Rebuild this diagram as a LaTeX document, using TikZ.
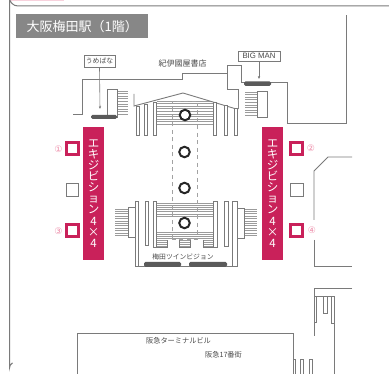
\documentclass[tikz,border=0pt]{standalone}
\usepackage{fontspec}
\setmainfont{Noto Sans CJK JP}
\newfontfamily\latinf{Liberation Sans}
\newfontfamily\symf{DejaVu Sans}
\usetikzlibrary{arrows.meta}
\definecolor{crim}{HTML}{C9215A}
\definecolor{wall}{HTML}{7A7A7A}
\definecolor{barc}{HTML}{5A5A5A}
\definecolor{txtc}{HTML}{4A4A4A}
\definecolor{pnk}{HTML}{EE8FAB}
\tikzset{
  x=1pt,y=-1pt,
  wallline/.style={draw=wall,line width=.9pt},
  stripe/.style={draw=wall!75,line width=.8pt},
  boxw/.style={draw=wall,line width=.9pt,fill=white},
  crimbar/.style={fill=crim,text=white,inner sep=0pt,font=\fontsize{11.5}{11.1}\selectfont,align=center},
  crimsq/.style={draw=crim,line width=2.6pt,fill=white,minimum size=12.4pt,inner sep=0pt},
  graysq/.style={draw=wall,line width=1pt,fill=white,minimum size=12.6pt,inner sep=0pt},
  ring/.style={circle,draw=black!85,line width=2pt,fill=white,minimum size=10.5pt,inner sep=0pt},
  lbl/.style={text=txtc,inner sep=0pt,font=\fontsize{6.8}{8}\selectfont},
  tag/.style={draw=wall,line width=.6pt,fill=white,text=txtc,inner sep=0pt,font=\fontsize{6.8}{8}\selectfont},
  numl/.style={text=pnk,inner sep=0pt,font=\symf\fontsize{9}{10}\selectfont},
  darkbar/.style={fill=barc},
  pointer/.style={draw=wall,line width=.6pt,-{Latex[length=2.5pt,width=2.5pt]}},
}
\newcommand{\stripes}[5]{% x1,x2,y1,y2,second y
  \foreach \yy in {#3,#5,...,#4}{\draw[stripe] (#1,\yy) -- (#2,\yy);}}
\begin{document}
\begin{tikzpicture}
\useasboundingbox (0,0) rectangle (389,374);
\fill[white] (0,0) rectangle (389,374);
\fill[pnk!40] (10,0) rectangle (64,1);
% frame
\draw[wall,line width=1pt] (389,6) -- (18,6) arc[start angle=90,end angle=180,radius=8.5] -- (9.5,368) arc[start angle=180,end angle=240,radius=6];
% title
\node[fill=wall!90,text=white,minimum width=132pt,minimum height=24pt,inner sep=0pt,anchor=north west,font=\fontsize{13}{15}\selectfont] (title) at (16,14) {大阪梅田駅（1階）};
% outer walls top
\draw[wallline] (73,114) -- (82,114) -- (82,79.5) -- (182,79.5) -- (182,73) -- (227,73);
\draw[wallline] (238,109) -- (238,89) -- (227,89) -- (227,65) -- (241,65) -- (241,82) -- (287,82) -- (287,123) -- (346,123) -- (346,15);
% top central stairs
\stripes{157}{213}{101}{127}{103.6}
% top roof
\fill[white] (134,106) -- (183,93) -- (238,109.5) -- (238,100) -- (183,85) -- (134,97) -- cycle;
\draw[wallline] (134,94) -- (134,106) -- (183,93) -- (238,109.5);
\foreach \a/\b/\t in {136.5/139.5/106,144/147/104,153/156/102,213/216/102,224/227/105,234/237/108}
  \draw[boxw] (\a,\t) rectangle (\b,135.5);
% top side stairs
\stripes{117}{128}{91}{117}{93.6}
\draw[boxw] (107,89) rectangle (117,117);
\stripes{245}{257}{92}{117}{94.6}
\draw[boxw] (257,91) rectangle (267,117);
% bottom central stairs
\stripes{156}{213}{203}{218}{205.2}
\stripes{156}{213}{232}{239}{234.2}
\foreach \a/\b in {156/167,179/190,203/214}{
  \stripes{\a}{\b}{240}{247}{242.3}
  \draw[wall,line width=.7pt] (\a,240) -- (\a,247) -- (\b,247) -- (\b,240);
}
% dashed corridor
\draw[wall!70,line width=.8pt,dash pattern=on 4pt off 3.5pt] (172,239) -- (172,101) -- (197,101) -- (197,239) -- cycle;
% bottom columns
\foreach \a/\b/\t/\u in {145/148/201/245,153/156/201/247,213/217/201/247,224/228/201/246}
  \draw[boxw] (\a,\t) rectangle (\b,\u);
\draw[wallline] (135,201) -- (138.5,201) -- (138.5,266);
\draw[wallline] (135,201) -- (135,266) -- (237,266) -- (237,201) -- (232.5,201) -- (232.5,266);
% bottom side stairs
\stripes{115}{128}{209}{236}{211.4}
\draw[boxw] (128,207) rectangle (135,237);
\stripes{244}{257}{209}{236}{211.4}
\draw[boxw] (237,208) rectangle (244,238);
% rings
\node[ring] (r1) at (185,115) {};
\node[ring] (r2) at (184.5,152) {};
\node[ring] (r3) at (184.5,188) {};
\node[ring] (r4) at (184.5,223) {};
% dark bars
\fill[darkbar,rounded corners=1.5pt] (144,267) -- (144,262) -- (181,262) -- (181,267) -- cycle;
\fill[darkbar,rounded corners=1.5pt] (189,267) -- (189,262) -- (227,262) -- (227,267) -- cycle;
\fill[darkbar,rounded corners=1.5pt] (91,115) -- (91,119) -- (117,119) -- (117,115) -- cycle;
\fill[darkbar,rounded corners=1.5pt] (244,81.5) -- (244,86) -- (271,86) -- (271,81.5) -- cycle;
% tags
\node[tag,minimum width=31pt,minimum height=12pt] (ume) at (99.5,61) {うめばな};
\node[tag,minimum width=42pt,minimum height=10pt,font=\latinf\fontsize{7.8}{9}\selectfont] (big) at (259,56) {BIG MAN};
\coordinate (umeEnd) at (100,109);
\coordinate (bigEnd) at (259,79);
\draw[pointer] (ume.south) -- (umeEnd);
\draw[pointer] (big.south) -- (bigEnd);
% labels
\node[lbl,font=\fontsize{8}{9}\selectfont] (kino) at (182.5,63) {紀伊國屋書店};
\node[lbl] (twin) at (183,257) {梅田ツインビジョン};
\node[lbl,font=\fontsize{7.2}{9}\selectfont] (term) at (178.5,341) {阪急ターミナルビル};
\node[lbl,font=\fontsize{7.2}{9}\selectfont] (st17) at (223.5,355) {阪急17番街};
% crimson banners
\node[crimbar,minimum width=21pt,minimum height=133pt] (left) at (93.5,193.5) {エ\\キ\\ジ\\ビ\\シ\\ョ\\ン\\4\\×\\4};
\node[crimbar,minimum width=21pt,minimum height=133pt] (right) at (272.5,193.5) {エ\\キ\\ジ\\ビ\\シ\\ョ\\ン\\4\\×\\4};
% squares
\node[crimsq] (s1) at (72.5,148.5) {};
\node[graysq] (g1) at (72.5,190) {};
\node[crimsq] (s3) at (72.5,230.5) {};
\node[crimsq] (s2) at (296.5,148.5) {};
\node[graysq] (g2) at (297,190) {};
\node[crimsq] (s4) at (296.5,230.5) {};
\node[numl] (n1) at (58.5,149) {①};
\node[numl] (n3) at (58.5,231) {③};
\node[numl] (n2) at (311,148.5) {②};
\node[numl] (n4) at (312,230.5) {④};
% right building
\draw[wallline] (352,157) -- (328,157) -- (314,171) -- (314,220);
\draw[wallline] (314,240) -- (314,266) -- (352,266);
\draw[wallline] (352,288) -- (314,288) -- (314,336);
\draw[wallline] (316,296) -- (334,296) -- (334,374);
\draw[boxw] (314,296) rectangle (316.7,322);
\draw[boxw] (323,296) rectangle (327,313);
\draw[boxw] (331.5,296) rectangle (334,323);
% bottom building
\draw[wallline] (77,374) -- (77,333) -- (293,333) -- (293,374);
\foreach \a/\b in {293/295,300/303,309/312}
  \draw[wallline] (\a,374) -- (\a,359) -- (\b,359) -- (\b,374);
\end{tikzpicture}
\end{document}
